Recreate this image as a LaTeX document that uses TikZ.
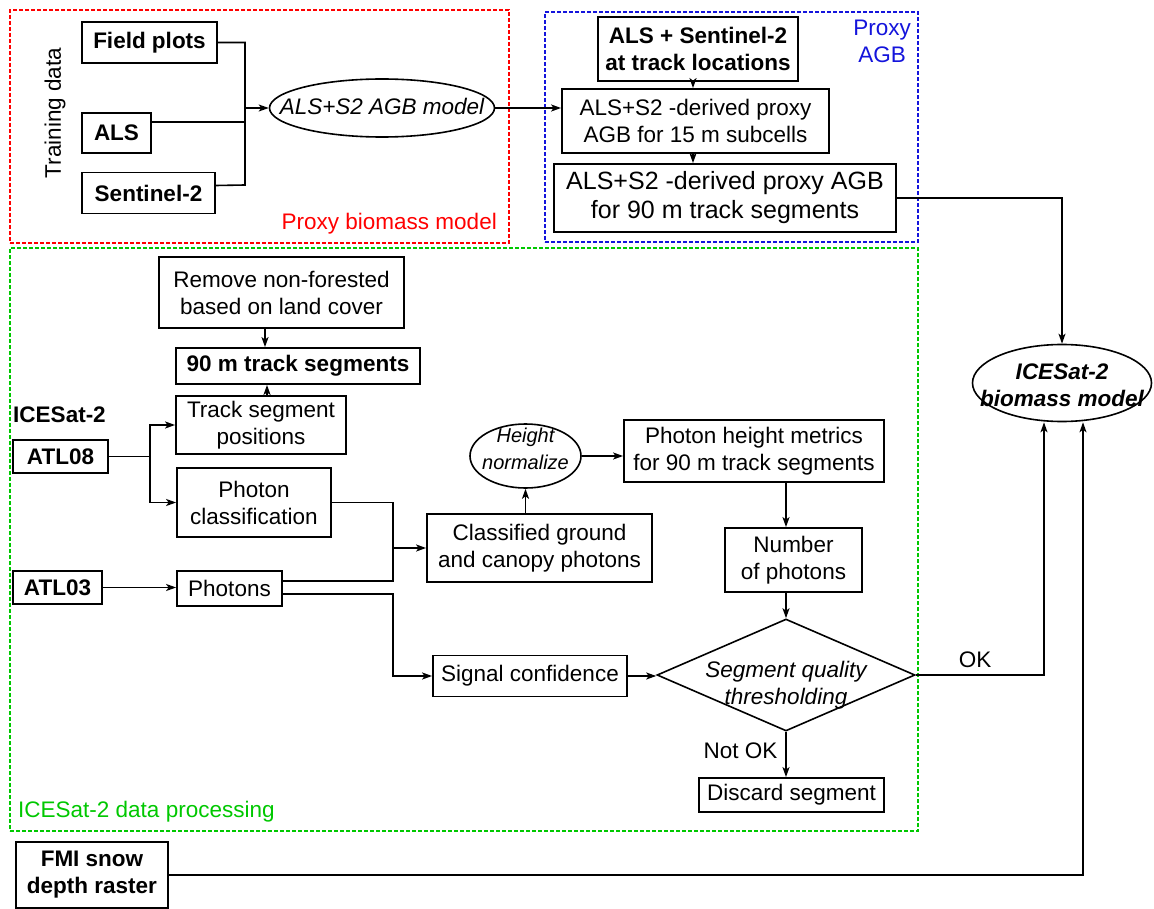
\documentclass[tikz,border=0pt]{standalone}
\usepackage{fontspec}
\setmainfont{Liberation Sans}
\usetikzlibrary{arrows.meta,shapes.geometric,calc}
\newcommand\myfs{\fontsize{22.5}{27}\selectfont}
\newcommand\mybigfs{\fontsize{25}{29}\selectfont}
\newcommand\mysmfs{\fontsize{20}{27}\selectfont}
\newcommand\mzbox[2][0pt]{\makebox[0pt]{\smash{\raisebox{#1}{\begin{tabular}{@{}c@{}}#2\end{tabular}}}}}
\definecolor{fred}{RGB}{255,0,0}
\definecolor{fblue}{RGB}{20,20,220}
\definecolor{fgreen}{RGB}{0,200,0}
\begin{document}
\begin{tikzpicture}[x=1pt,y=-1pt,
  box/.style={draw, line width=1.8pt, inner sep=0pt, align=center, font=\myfs},
  bbox/.style={box, font=\myfs\bfseries},
  ell/.style={draw, ellipse, line width=1.6pt, inner sep=0pt, font=\myfs\itshape},
  dia/.style={draw, diamond, line width=1.6pt, inner sep=0pt, font=\myfs\itshape},
  ln/.style={line width=1.6pt},
  arr/.style={ln, -{Stealth[length=10pt,width=7pt,inset=2.5pt]}},
  frame/.style={draw, line width=1.4pt, dash pattern=on 4pt off 2pt, inner sep=0pt},
  lbl/.style={inner sep=0pt, font=\myfs}]
\useasboundingbox (0,0) rectangle (1154,909);
\fill[white] (0,0) rectangle (1154,909);

% frames
\node[frame, draw=fred, minimum width=499pt, minimum height=233pt] (redf) at (259.5,126.5) {};
\node[frame, draw=fblue, minimum width=373pt, minimum height=230pt] (bluef) at (731.5,127) {};
\node[frame, draw=fgreen, minimum width=908pt, minimum height=583pt] (greenf) at (464,539.5) {};

% labels
\node[lbl, text=fred, anchor=base east] (lred) at (497,229.5) {Proxy biomass model};
\node[lbl, text=fblue, align=center, anchor=north] (lblue) at (882,20) {Proxy\\AGB};
\node[lbl, text=fgreen, anchor=base west] (lgreen) at (18,817) {ICESat-2 data processing};
\node[lbl, rotate=90] (train) at (55,113) {Training data};
\node[lbl, font=\myfs\bfseries] (lice) at (59.5,415) {ICESat-2};
\node[lbl, anchor=base] (lok) at (975,667) {OK};
\node[lbl, anchor=base] (lnok) at (740.5,758) {Not OK};

% proxy biomass model
\node[bbox, minimum width=135pt, minimum height=41pt] (field) at (149.5,42.5) {Field plots};
\node[bbox, minimum width=69pt, minimum height=40pt] (als) at (116.5,133) {ALS};
\node[bbox, minimum width=133pt, minimum height=41pt] (s2) at (148.5,193) {Sentinel-2};
\node[ell, minimum width=225pt, minimum height=58pt] (agbm) at (382,108) {\mzbox[-6.5pt]{ALS+S2 AGB model}};

% proxy AGB
\node[bbox, minimum width=200pt, minimum height=64pt] (alss2) at (698,49) {ALS + Sentinel-2\\at track locations};
\node[box, minimum width=267pt, minimum height=64pt] (b15) at (695.5,121) {ALS+S2 -derived proxy\\AGB for 15 m subcells};
\node[box, font=\mybigfs, minimum width=342pt, minimum height=68pt] (b90) at (725,198) {ALS+S2 -derived proxy AGB\\for 90 m track segments};

% ICESat-2 processing
\node[box, minimum width=245pt, minimum height=71pt] (remove) at (281.5,292.5) {Remove non-forested\\based on land cover};
\node[bbox, minimum width=244pt, minimum height=36pt] (seg90) at (298,366) {90 m track segments};
\node[box, minimum width=170pt, minimum height=58pt] (tsp) at (261,425) {Track segment\\positions};
\node[bbox, minimum width=95pt, minimum height=33pt] (atl08) at (60.5,456.5) {ATL08};
\node[box, minimum width=154pt, minimum height=69pt] (pclass) at (254,502.5) {Photon\\classification};
\node[bbox, minimum width=89pt, minimum height=33pt] (atl03) at (57.5,587.5) {ATL03};
\node[box, minimum width=105pt, minimum height=35pt] (photons) at (229.5,588.5) {Photons};
\node[box, minimum width=225pt, minimum height=68pt] (classified) at (539.5,548) {Classified ground\\and canopy photons};
\node[ell, font=\mysmfs\itshape, minimum width=111pt, minimum height=64pt] (heightn) at (525.5,456) {\mzbox{Height\\normalize}};
\node[box, minimum width=260pt, minimum height=62pt] (phm) at (754,451) {Photon height metrics\\for 90 m track segments};
\node[box, minimum width=137pt, minimum height=64pt] (nphot) at (793.5,560) {Number\\of photons};
\node[dia, minimum width=258pt, minimum height=112pt] (dia) at (786,675) {\mzbox[-15.5pt]{Segment quality\\thresholding}};
\node[box, minimum width=194pt, minimum height=41pt] (sigconf) at (530,676) {Signal confidence};
\node[box, minimum width=185pt, minimum height=34pt] (discard) at (791.5,795) {Discard segment};

% outputs
\node[ell, font=\myfs\bfseries\itshape, minimum width=179pt, minimum height=77pt] (icesatm) at (1062,383) {\mzbox[-10pt]{ICESat-2\\biomass model}};
\node[bbox, minimum width=152pt, minimum height=66pt] (fmi) at (92,875) {FMI snow\\depth raster};

% connectors: training data
\draw[ln] (field.east) -- (245,42.5) -- (245,185) -- ([yshift=7.5pt]s2.east);
\draw[ln] ([yshift=11pt]als.east) -- (245,122);
\draw[arr] (245,0 |- agbm.west) -- (agbm.west);
\draw[arr] (agbm.east) -- (agbm.east -| b15.west);
\draw[arr] (693,0 |- alss2.south) -- (693,0 |- b15.north);
\draw[arr] (693,0 |- b15.south) -- (693,0 |- b90.north);
\draw[arr] (b90.east) -| (icesatm.north);

% ICESat-2 processing
\draw[arr] (265,0 |- remove.south) -- (265,0 |- seg90.north);
\draw[arr] (267,0 |- tsp.north) -- (267,0 |- seg90.south);
\draw[ln] (atl08.east) -- (150,456.5);
\draw[arr] (150,456.5) |- (tsp.west);
\draw[arr] (150,456.5) |- (pclass.west);
\draw[arr] (atl03.east) -- (atl03.east -| photons.west);
\draw[ln] (pclass.east) -- (393,502.5) -- (393,581) -- ([yshift=7.5pt]photons.east);
\draw[arr] (393,0 |- classified.west) -- (classified.west);
\draw[arr] ([yshift=-5.5pt]photons.east) -| (393,0 |- sigconf.west) -- (sigconf.west);
\draw[arr] (525.5,0 |- classified.north) -- (heightn.south);
\draw[arr] (heightn.east) -- (heightn.east -| phm.west);
\draw[arr] (786,0 |- phm.south) -- (786,0 |- nphot.north);
\draw[arr] (786,0 |- nphot.south) -- (dia.north);
\draw[arr] (sigconf.east) -- (sigconf.east -| dia.west);
\draw[arr] (dia.south) -- (dia.south |- discard.north);
\draw[arr] (dia.east) -| ([xshift=-18pt]icesatm.south);
\draw[arr] (fmi.east) -| ([xshift=21pt]icesatm.south);
\end{tikzpicture}
\end{document}
